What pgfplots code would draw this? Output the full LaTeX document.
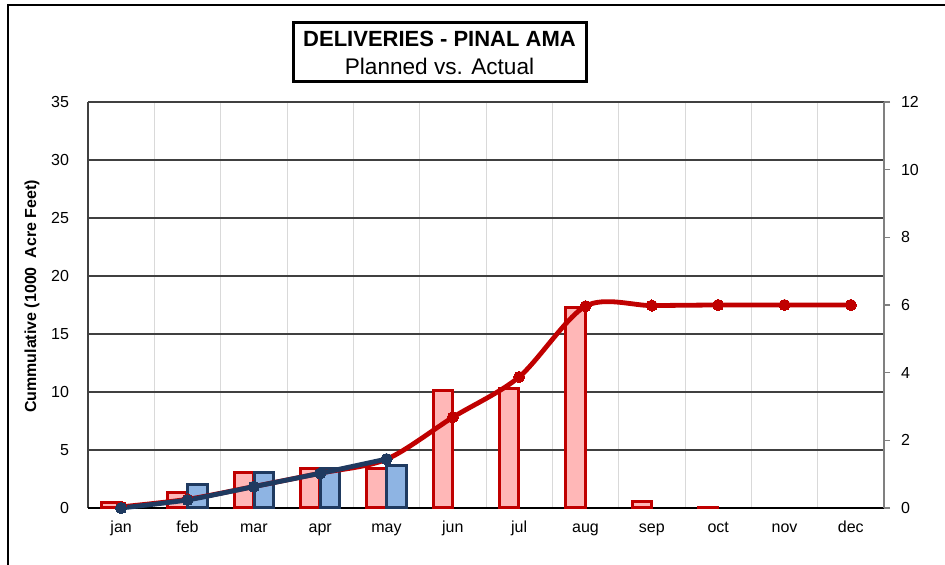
\documentclass[border=0pt]{standalone}
\usepackage{pgfplots}
\pgfplotsset{compat=1.18}
\usepackage{fontspec}
\setmainfont{Liberation Sans}
\definecolor{pred}{HTML}{C00000}
\definecolor{pfill}{HTML}{FFB7B7}
\definecolor{afill}{HTML}{8EB4E3}
\definecolor{anavy}{HTML}{1F3A60}
\definecolor{gridd}{HTML}{404040}
\definecolor{gridl}{HTML}{D9D9D9}
\begin{document}
\begin{tikzpicture}
\path[use as bounding box] (0,0) rectangle (472.5pt,282.5pt);
\pgfplotsset{base/.style={scale only axis, width=398pt, height=203pt, at={(44pt,28.5pt)}, anchor=south west, xmin=0.5, xmax=12.5, clip=false,
  tick label style={font=\fontsize{8}{9}\selectfont}, /pgf/number format/assume math mode=true}}
% axis 1: grid, left labels, month labels
\begin{axis}[base, ymin=0, ymax=35, ytick={0,5,...,35},
  xtick={1,...,12}, xticklabels={jan,feb,mar,apr,may,jun,jul,aug,sep,oct,nov,dec},
  minor xtick={1.5,2.5,...,11.5}, xminorgrids, minor grid style={gridl, line width=0.5pt},
  ymajorgrids, major grid style={gridd, line width=0.6pt},
  major tick length=0pt, minor tick length=0pt, axis line style={draw=none},
  yticklabel style={xshift=-6pt}, xticklabel style={anchor=base, yshift=-12.5pt}]
\draw[gridd, line width=0.8pt] (axis cs:0.5,35) -- (axis cs:0.5,0);
\draw[black, line width=0.8pt] (axis cs:0.5,0) -- (axis cs:12.5,0);
\draw[gray, line width=0.6pt] (axis cs:12.5,0) -- (axis cs:12.5,35);
\end{axis}
% axis 2: monthly bars, right axis
\begin{axis}[base, ymin=0, ymax=12, ytick={0,2,...,12}, axis y line*=right, axis x line=none,
  y axis line style={draw=none}, ytick style={gray, line width=0.6pt}, tick align=outside,
  major tick length=3pt, yticklabel style={xshift=2pt}]
\addplot[ybar, bar width=0.29, bar shift=-0.15, draw=pred, fill=pfill, line width=1.5pt]
  coordinates {(1,0.17)(2,0.47)(3,1.05)(4,1.18)(5,1.18)(6,3.47)(7,3.52)(8,5.93)(9,0.2)(10,0.02)};
\addplot[ybar, bar width=0.29, bar shift=0.15, draw=anavy, fill=afill, line width=1.5pt]
  coordinates {(2,0.69)(3,1.05)(4,1.18)(5,1.25)};
\end{axis}
% axis 3: cumulative lines
\begin{axis}[base, ymin=0, ymax=35, hide axis]
\addplot[pred, line width=2.4pt, smooth, tension=0.5, mark=*, mark size=2.8pt, mark options={fill=pred, draw=pred, line width=0pt}]
  coordinates {(1,0.1)(2,0.75)(3,1.85)(4,3.0)(5,4.2)(6,7.82)(7,11.3)(8,17.4)(9,17.45)(10,17.5)(11,17.5)(12,17.5)};
\addplot[anavy, line width=2.4pt, smooth, tension=0.3, mark=*, mark size=2.8pt, mark options={fill=anavy, draw=anavy, line width=0pt}]
  coordinates {(1,0)(2,0.69)(3,1.84)(4,2.99)(5,4.22)};
\end{axis}
% frame
\draw[line width=1pt] (3.75pt,0) -- (3.75pt,280pt) -- (472.5pt,280pt);
% title box
\draw[line width=1.5pt, fill=white] (146.5pt,241.65pt) rectangle (293pt,271.15pt);
\node[anchor=base, font=\bfseries\fontsize{11}{12}\selectfont, inner sep=0pt] at (219.75pt,259.2pt) {DELIVERIES - PINAL AMA};
\node[anchor=base, font=\fontsize{11.3}{12}\selectfont, inner sep=0pt] at (219.75pt,245.4pt) {Planned vs. Actual};
% y label
\node[rotate=90, font=\bfseries\fontsize{8}{9}\selectfont] at (16pt,134.25pt) {Cummulative (1000\ \ Acre Feet)};
\end{tikzpicture}
\end{document}
